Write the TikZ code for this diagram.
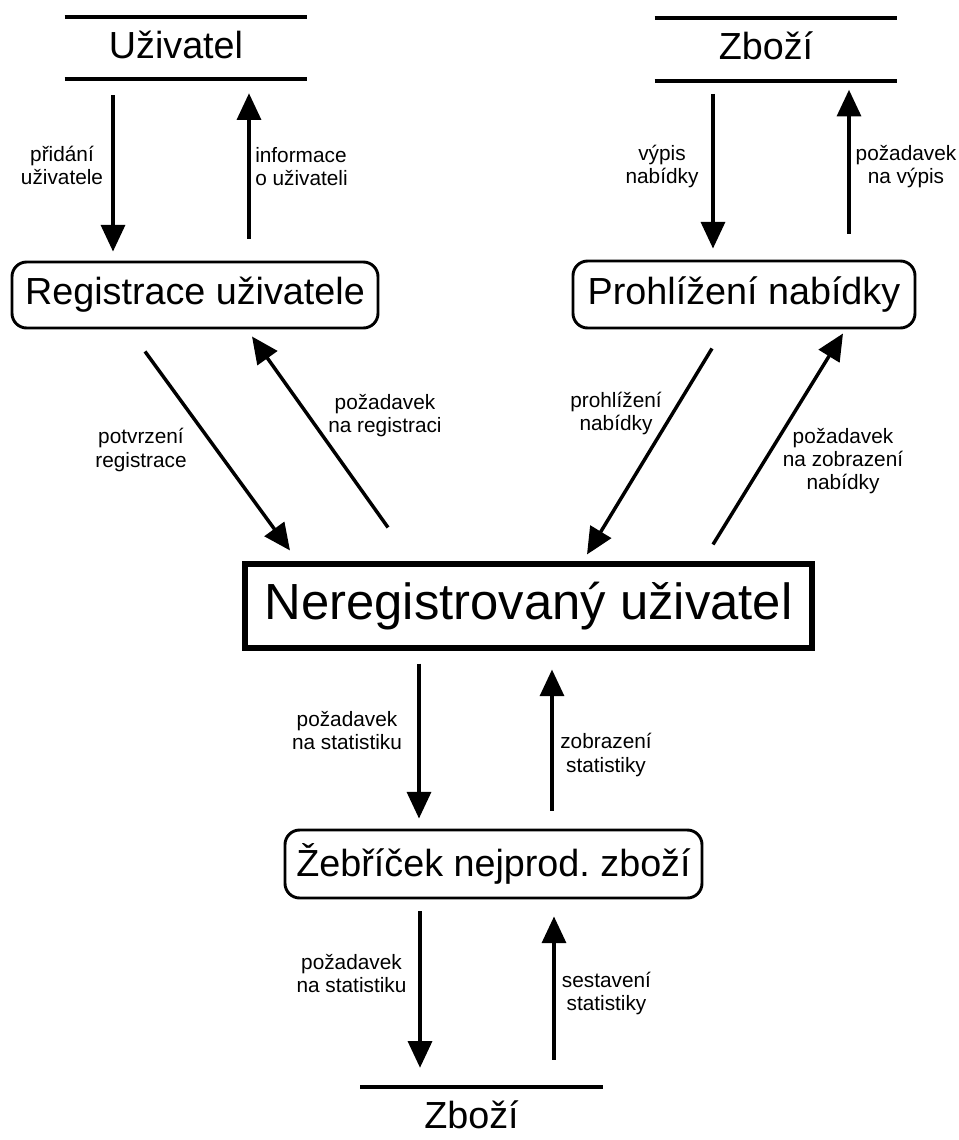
\documentclass[tikz,border=0pt]{standalone}
\usepackage{fontspec}
\setmainfont{Liberation Sans}
\usetikzlibrary{arrows.meta,calc}
\begin{document}
\begin{tikzpicture}[x=0.75pt,y=-0.75pt,
  procbox/.style={draw, line width=2.2pt, rounded corners=11pt, inner sep=0pt,
    font=\fontsize{28.3}{34}\selectfont},
  mainbox/.style={draw, line width=3.8pt, inner sep=0pt,
    font=\fontsize{38.1}{46}\selectfont},
  store/.style={inner sep=0pt, minimum width=181.5pt, minimum height=46.5pt,
    text height=21pt, text depth=5.7pt, font=\fontsize{28.3}{34}\selectfont},
  storeline/.style={line width=2.8pt},
  flow/.style={line width=2.6pt, -{Triangle[width=18pt,length=20pt]}},
  flowlabel/.style={font=\fontsize{15.6}{17.3}\selectfont, align=center, inner sep=0pt}
]
\useasboundingbox (0,0) rectangle (959,1140);

% data stores (text set a little left of the bar centre)
\node[store] (uziv) at (186,48) {Uživatel\hspace*{15pt}};
\node[store] (zbA) at (776,49.5) {Zboží\hspace*{15pt}};
\node[store] (zbB) at (481.5,1118) {Zboží\hspace*{15pt}};
\draw[storeline] (uziv.north west) -- (uziv.north east)
                 (uziv.south west) -- (uziv.south east);
\draw[storeline] (zbA.north west) -- (zbA.north east)
                 (zbA.south west) -- (zbA.south east);
\draw[storeline] (zbB.north west) -- (zbB.north east);

% processes
\node[procbox, minimum width=274.5pt, minimum height=49.5pt] (reg) at (195,295) {Registrace uživatele};
\node[procbox, minimum width=256.5pt, minimum height=50.25pt] (proh) at (744,294.5) {Prohlížení nabídky};
\node[procbox, minimum width=312.75pt, minimum height=51pt] (zeb) at (493.5,864) {Žebříček nejprod.\ zboží};

% external entity
\node[mainbox, minimum width=425.25pt, minimum height=63pt] (ner) at (528.5,606) {Neregistrovaný uživatel};

% flows between Uživatel and Registrace uživatele
\draw[flow] ($(uziv.south)+(-73,16)$) -- ($(reg.north)+(-82,-9)$);
\draw[flow] ($(reg.north)+(54,-22)$) -- ($(uziv.south)+(63,14)$);
% flows between Zboží and Prohlížení nabídky
\draw[flow] ($(zbA.south)+(-63,13)$) -- ($(proh.north)+(-31,-11)$);
\draw[flow] ($(proh.north)+(105,-26)$) -- ($(zbA.south)+(73,9)$);
% diagonal flows to and from the entity
\draw[flow] ($(reg.south)+(-50,22)$) -- ($(ner.north)+(-238.5,-11)$);
\draw[flow] ($(ner.north)+(-140.5,-34)$) -- ($(reg.south)+(57,7)$);
\draw[flow] ($(proh.south)+(-32,19)$) -- ($(ner.north)+(58.5,-7)$);
\draw[flow] ($(ner.north)+(184.5,-17)$) -- ($(proh.south)+(99,4)$);
% flows to and from the ranking
\draw[flow] ($(ner.south)+(-109.5,13)$) -- ($(zeb.north)+(-74.5,-10)$);
\draw[flow] ($(zeb.north)+(58.5,-18)$) -- ($(ner.south)+(23.5,19)$);
\draw[flow] ($(zeb.south)+(-73.5,12)$) -- ($(zbB.north)+(-61.5,-19)$);
\draw[flow] ($(zbB.north)+(72.5,-27)$) -- ($(zeb.south)+(60.5,17)$);

% flow labels
\node[flowlabel] (l1) at (62,165) {přidání\\uživatele};
\node[flowlabel, align=left, anchor=west] (l2) at (255,166.5) {informace\\o uživateli};
\node[flowlabel] (l3) at (662,166.5) {výpis\\nabídky};
\node[flowlabel] (l4) at (906,166.5) {požadavek\\na výpis};
\node[flowlabel] (l5) at (141,450) {potvrzení\\registrace};
\node[flowlabel] (l6) at (385,416) {požadavek\\na registraci};
\node[flowlabel] (l7) at (616,413.5) {prohlížení\\nabídky};
\node[flowlabel] (l8) at (843,461.5) {požadavek\\na zobrazení\\nabídky};
\node[flowlabel] (l9) at (347,730.5) {požadavek\\na statistiku};
\node[flowlabel] (l10) at (606,755) {zobrazení\\statistiky};
\node[flowlabel] (l11) at (351.5,973.5) {požadavek\\na statistiku};
\node[flowlabel] (l12) at (606.5,993.5) {sestavení\\statistiky};
\end{tikzpicture}
\end{document}
